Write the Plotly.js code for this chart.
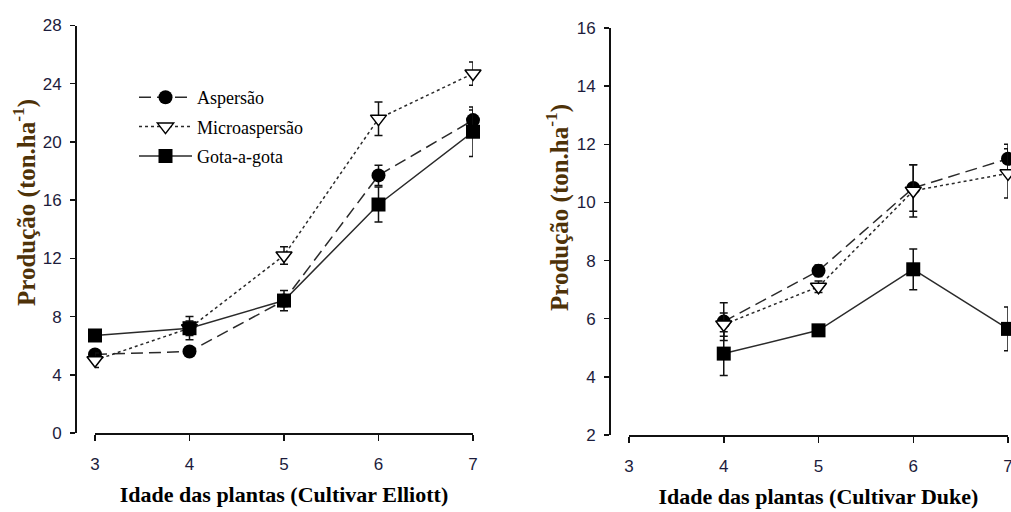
<!DOCTYPE html>
<html>
<head>
<meta charset="utf-8">
<script src="https://cdn.plot.ly/plotly-3.0.1.min.js"></script>
<style>html,body{margin:0;padding:0;background:#fff;}#chart{width:1011px;height:512px;}</style>
</head>
<body>
<div id="chart"></div>
<script>
// Ages (years)
const ages = [3, 4, 5, 6, 7];
const agesDuke = [4, 5, 6, 7];

// Cultivar Elliott (ton/ha)
const elliottAspersao = [5.4, 5.6, 9.1, 17.7, 21.5];
const elliottAspersaoErr = [0.3, 0.3, 0.4, 0.7, 0.7];
const elliottMicro = [5.0, 7.2, 12.2, 21.6, 24.7];
const elliottMicroErr = [0.5, 0.5, 0.6, 1.15, 0.8];
const elliottGota = [6.7, 7.2, 9.1, 15.7, 20.7];
const elliottGotaErr = [0.3, 0.8, 0.7, 1.2, 1.7];

// Cultivar Duke (ton/ha)
const dukeAspersao = [5.9, 7.65, 10.5, 11.5];
const dukeAspersaoErr = [0.65, 0.2, 0.8, 0.5];
const dukeMicro = [5.8, 7.1, 10.4, 11.0];
const dukeMicroErr = [0.4, 0.2, 0.9, 0.85];
const dukeGota = [4.8, 5.6, 7.7, 5.65];
const dukeGotaErr = [0.75, 0.15, 0.7, 0.75];

const seriesNames = ['Aspersão', 'Microaspersão', 'Gota-a-gota'];
const yTitle = 'Produção (ton.ha<sup>-1</sup>)';
const xTitleLeft = 'Idade das plantas (Cultivar Elliott)';
const xTitleRight = 'Idade das plantas (Cultivar Duke)';

const styles = [
  {dash: '12px,6px', marker: {symbol: 'circle', size: 14, color: '#000'}},
  {dash: 'dot', marker: {symbol: 'triangle-down', size: 14, color: '#fff', line: {color: '#000', width: 1.5}}},
  {dash: 'solid', marker: {symbol: 'square', size: 14, color: '#000'}}
];

function mk(x, y, err, i, xa, ya, showlegend) {
  return {
    type: 'scatter', mode: 'lines+markers', x: x, y: y,
    name: seriesNames[i], legendgroup: 'g' + i, showlegend: showlegend,
    xaxis: xa, yaxis: ya, cliponaxis: false,
    line: {color: '#2a2a2a', width: 1.5, dash: styles[i].dash},
    marker: styles[i].marker,
    error_y: {type: 'data', array: err, visible: true, color: '#111', thickness: 1.5, width: 4}
  };
}

const data = [
  mk(ages, elliottAspersao, elliottAspersaoErr, 0, 'x', 'y', true),
  mk(ages, elliottMicro, elliottMicroErr, 1, 'x', 'y', true),
  mk(ages, elliottGota, elliottGotaErr, 2, 'x', 'y', true),
  mk(agesDuke, dukeAspersao, dukeAspersaoErr, 0, 'x2', 'y2', false),
  mk(agesDuke, dukeMicro, dukeMicroErr, 1, 'x2', 'y2', false),
  mk(agesDuke, dukeGota, dukeGotaErr, 2, 'x2', 'y2', false)
];

const W = 1011, H = 512;
const tickFont = {family: 'Liberation Sans, Arial, sans-serif', size: 17, color: '#1c1c3c'};
const yTitleFont = {family: 'Liberation Serif, Times New Roman, serif', size: 25, color: '#4e3208', weight: 'bold'};
const xTitleFont = {family: 'Liberation Serif, Times New Roman, serif', size: 22, color: '#000', weight: 'bold'};

function xax(dom, title) {
  return {
    domain: dom, range: [3, 7], tickvals: [3, 4, 5, 6, 7], showgrid: false, zeroline: false,
    showline: true, linecolor: '#111', linewidth: 2, ticks: 'outside', ticklen: 6, tickwidth: 1.5, tickcolor: '#111',
    tickfont: tickFont, ticklabelstandoff: 9, ticklabeloverflow: 'allow',
    title: {text: title, font: xTitleFont, standoff: 13}
  };
}
function yax(dom, pos, range, dtick) {
  return {
    domain: dom, range: range, dtick: dtick, tick0: 0, anchor: 'free', position: pos,
    showgrid: false, zeroline: false,
    showline: true, linecolor: '#111', linewidth: 2, ticks: 'outside', ticklen: 5, tickwidth: 1.5, tickcolor: '#111',
    tickfont: tickFont, ticklabelstandoff: 5
  };
}
function yTitleAnn(xpx, ypx) {
  return {
    text: yTitle, xref: 'paper', yref: 'paper', x: xpx / W, y: 1 - ypx / H,
    xanchor: 'center', yanchor: 'middle', textangle: -90, showarrow: false, font: yTitleFont
  };
}

const layout = {
  width: W, height: H,
  margin: {l: 0, r: 0, t: 0, b: 0},
  paper_bgcolor: '#fff', plot_bgcolor: 'rgba(0,0,0,0)',
  showlegend: true,
  legend: {
    x: 134 / W, y: 1 - 79 / H, xanchor: 'left', yanchor: 'top',
    bgcolor: 'rgba(0,0,0,0)', borderwidth: 0, tracegroupgap: 3, itemwidth: 53,
    font: {family: 'Liberation Serif, Times New Roman, serif', size: 18, color: '#000'}
  },
  xaxis: Object.assign(xax([95 / W, 473 / W], xTitleLeft), {anchor: 'y'}),
  yaxis: yax([1 - 433 / H, 1 - 25.5 / H], 76 / W, [0, 28], 4),
  xaxis2: Object.assign(xax([629 / W, 1008 / W], xTitleRight), {anchor: 'y2'}),
  yaxis2: yax([1 - 435 / H, 1 - 28 / H], 610 / W, [2, 16], 2),
  annotations: [yTitleAnn(24, 203), yTitleAnn(557, 208)]
};

Plotly.newPlot('chart', data, layout, {displayModeBar: false, staticPlot: true});
</script>
</body>
</html>
